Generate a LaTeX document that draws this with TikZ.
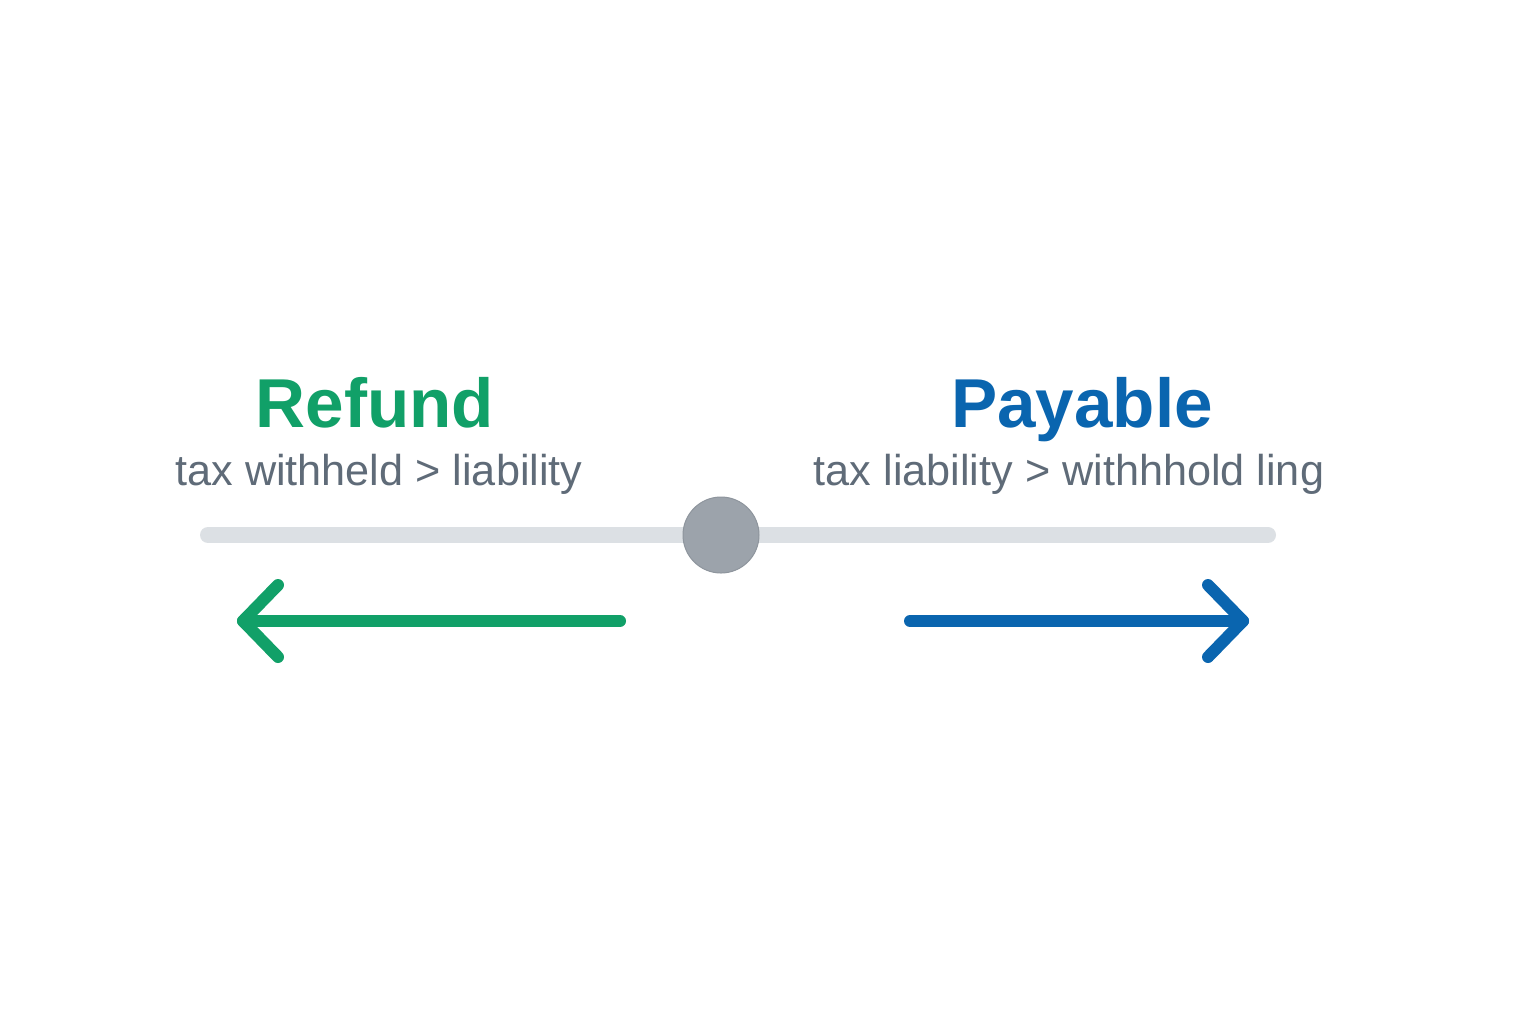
\documentclass[tikz,border=0pt]{standalone}
\usepackage{fontspec}
\setmainfont{Liberation Sans}
\usetikzlibrary{calc}
\definecolor{refundgreen}{HTML}{11A068}
\definecolor{payblue}{HTML}{0A65AF}
\definecolor{subgray}{HTML}{5F6B78}
\definecolor{trackgray}{HTML}{DCE0E4}
\definecolor{knobgray}{HTML}{9CA3AB}
\definecolor{knobedge}{HTML}{8E959D}
\tikzset{
  title/.style={anchor=base, font=\fontsize{34.6}{40}\selectfont\bfseries, inner sep=0pt},
  subtitle/.style={anchor=base, font=\fontsize{21.6}{26}\selectfont, text=subgray, inner sep=0pt},
  track/.style={line width=8pt, trackgray, line cap=round},
  knob/.style={circle, fill=knobgray, draw=knobedge, line width=0.5pt, minimum size=38pt, inner sep=0pt},
  bigarrow/.style={line width=6pt, line cap=round, line join=round},
}
\begin{document}
\begin{tikzpicture}[x=0.5pt,y=-0.5pt]
\fill[white] (0,0) rectangle (1536,1024);
\useasboundingbox (0,0) rectangle (1536,1024);
% track
\coordinate (trackL) at (208,535);
\coordinate (trackR) at (1268,535);
\draw[track] (trackL) -- (trackR);
\node[knob] (knob) at (721,535) {};
% titles
\node[title, text=refundgreen] (refund) at (375,427) {Refund};
\node[subtitle] (refundsub) at (379,485) {tax withheld > liability};
\node[title, text=payblue] (payable) at (1082,427) {Payable};
\node[subtitle] (payablesub) at (1069,485) {tax liability > withhhold ling};
% green arrow
\coordinate (gstart) at (620,621);
\coordinate (gend) at (243,621);
\draw[bigarrow, refundgreen] (gstart) -- (gend);
\draw[bigarrow, refundgreen] ($(gend)+(35,-36)$) -- (gend) -- ($(gend)+(35,36)$);
% blue arrow
\coordinate (bstart) at (910,621);
\coordinate (bend) at (1243,621);
\draw[bigarrow, payblue] (bstart) -- (bend);
\draw[bigarrow, payblue] ($(bend)+(-35,-36)$) -- (bend) -- ($(bend)+(-35,36)$);
\end{tikzpicture}
\end{document}
